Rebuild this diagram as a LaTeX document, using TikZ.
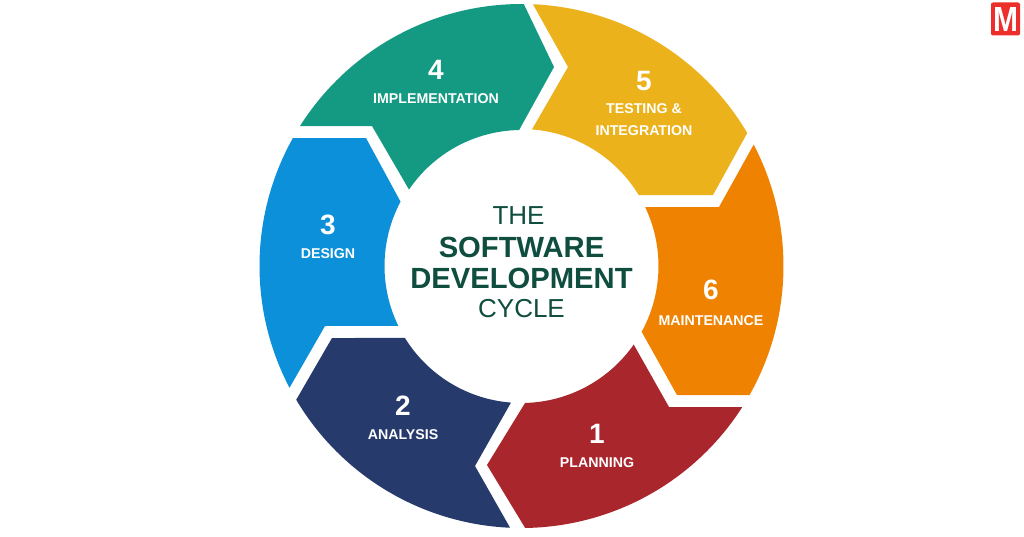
\documentclass[tikz,border=0pt]{standalone}
\usepackage{fontspec}
\setmainfont{Liberation Sans}
\definecolor{tealseg}{HTML}{149A82}
\definecolor{yellowseg}{HTML}{EBB21B}
\definecolor{orangeseg}{HTML}{EF8200}
\definecolor{redseg}{HTML}{A9262D}
\definecolor{navyseg}{HTML}{263B6C}
\definecolor{blueseg}{HTML}{0B90D9}
\definecolor{titlegreen}{HTML}{0F4D3F}
\definecolor{logored}{HTML}{EC2F2B}
\tikzset{
 numlab/.style={text=white, font=\fontsize{28}{28}\selectfont\bfseries, inner sep=0},
 steplab/.style={text=white, font=\fontsize{14.2}{22}\selectfont\bfseries, inner sep=0, align=center},
 titlethin/.style={text=titlegreen, font=\fontsize{26}{26}\selectfont, inner sep=0},
 titlebold/.style={text=titlegreen, font=\fontsize{29.2}{29.2}\selectfont\bfseries, inner sep=0}
}
\begin{document}
\begin{tikzpicture} [x=1pt,y=1pt]
\useasboundingbox (-521.5,-270) rectangle (502.5,266);
\fill[white] (-521.5,-270) rectangle (502.5,266);
% segments
\fill[tealseg] (147.7:262) arc[start angle=147.7, end angle=89.5, radius=262] -- (32.5,199) -- (91:136) arc[start angle=91, end angle=145.8, radius=136] -- (-149.5,140) -- cycle;
\fill[yellowseg] (87.5:262) arc[start angle=87.5, end angle=30.5, radius=262] -- (191.5,71) -- (31.1:137) arc[start angle=31.1, end angle=85.6, radius=137] -- (46.5,199) -- cycle;
\fill[orangeseg] (27.6:262) arc[start angle=27.6, end angle=-29.5, radius=262] -- (155.5,-129) -- (-28.7:137) arc[start angle=-28.7, end angle=25.4, radius=137] -- (197.5,59) -- cycle;
\fill[redseg] (-32.6:262) arc[start angle=-32.6, end angle=-89.2, radius=262] -- (-34.5,-199) -- (-88.5:137) arc[start angle=-88.5, end angle=-35, radius=137] -- (147.5,-141) -- cycle;
\fill[navyseg] (210.7:262) arc[start angle=210.7, end angle=267.5, radius=262] -- (-46.5,-200) -- (265.6:137) arc[start angle=265.6, end angle=211.7, radius=137] -- (-189.5,-72) -- cycle;
\fill[blueseg] (150.8:262) arc[start angle=150.8, end angle=207.7, radius=262] -- (-196.5,-60) -- (205.9:137) arc[start angle=205.9, end angle=152, radius=137] -- (-155.5,128) -- cycle;
% numbers and labels
\foreach \n/\x/\y/\l/\t in {4/-85.5/196/167.5/IMPLEMENTATION, 6/189.5/-24/-54.5/MAINTENANCE, 1/75.5/-168/-196.5/PLANNING, 2/-118.5/-140/-168.5/ANALYSIS, 3/-193.5/41/12.5/DESIGN} {
 \node[numlab] (num\n) at (\x,\y) {\n};
 \node[steplab] (lab\n) at (\x,\l) {\t};
}
\node[numlab] (num5) at (122.5,185) {5};
\node[steplab] (lab5) at (122.5,146) {TESTING \&\\INTEGRATION};
% centre title
\node[titlethin] (the) at (-3,50) {THE};
\node[titlebold] (soft) at (0,19) {SOFTWARE};
\node[titlebold] (dev) at (0,-12) {DEVELOPMENT};
\node[titlethin] (cyc) at (0,-43) {CYCLE};
% logo
\node[fill=logored, rounded corners=2, text=white, inner sep=0, minimum width=29, minimum height=33] (logo) at (484,247) {\resizebox{25pt}{24pt}{\bfseries M}};
\end{tikzpicture}
\end{document}
